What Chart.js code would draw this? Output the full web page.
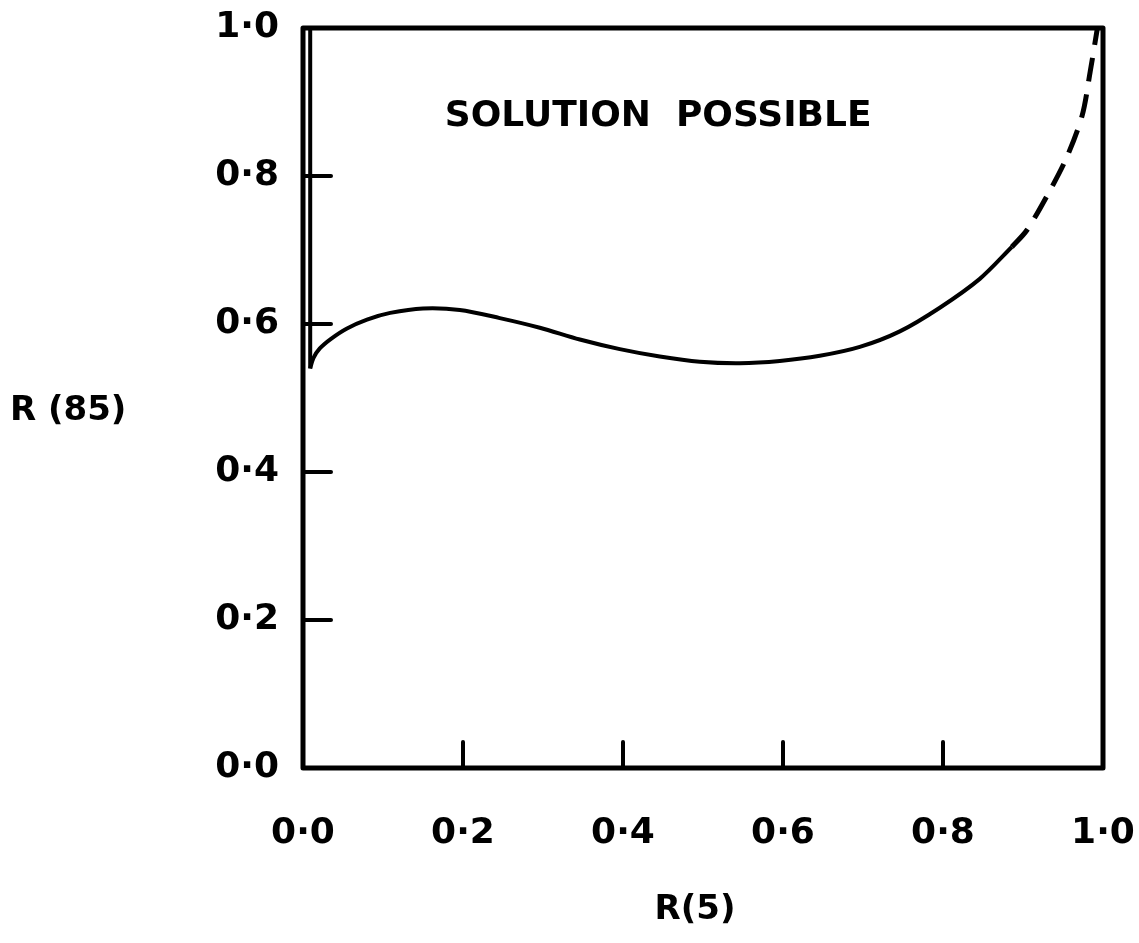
<!DOCTYPE html>
<html>
<head>
<meta charset="utf-8">
<script src="https://cdn.jsdelivr.net/npm/chart.js@4"></script>
<style>
  html, body { margin: 0; padding: 0; background: #fff; }
  #wrap { width: 1139px; height: 943px; position: relative; }
</style>
</head>
<body>
<div id="wrap"><canvas id="regionChart"></canvas></div>
<script>
// tick labels
const xTickLabels = ['0·0', '0·2', '0·4', '0·6', '0·8', '1·0'];
const yTickLabels = ['0·0', '0·2', '0·4', '0·6', '0·8', '1·0'];
const innerTicks = [0.2, 0.4, 0.6, 0.8];

// boundary curve, R(5) vs R(85), solid part
const curveX = [0.009, 0.013, 0.021, 0.035, 0.055, 0.08, 0.109, 0.15, 0.196, 0.246, 0.296, 0.346, 0.396, 0.446, 0.496, 0.546, 0.596, 0.646, 0.696, 0.746, 0.796, 0.846, 0.886];
const curveY = [0.54, 0.554, 0.567, 0.58, 0.594, 0.606, 0.615, 0.621, 0.619, 0.608, 0.595, 0.579, 0.566, 0.556, 0.549, 0.547, 0.550, 0.557, 0.569, 0.590, 0.622, 0.661, 0.704];

// dashed extension up to the corner
const dashX = [0.886, 0.905, 0.934, 0.955, 0.974, 0.984, 0.993];
const dashY = [0.704, 0.727, 0.781, 0.826, 0.882, 0.941, 1.0];

// vertical branch along the left edge
const edgeX = [0.009, 0.009];
const edgeY = [1.0, 0.54];

function toPoints(xs, ys) {
    return xs.map((x, i) => ({ x: x, y: ys[i] }));
}

const FONT = '"DejaVu Sans", sans-serif';

const framePlugin = {
    id: 'frame',
    afterDraw(chart) {
        const c = chart.ctx;
        const a = chart.chartArea;
        const xs = chart.scales.x, ys = chart.scales.y;
        c.save();
        c.strokeStyle = '#000';
        c.lineWidth = 5;
        c.lineJoin = 'round';
        c.strokeRect(a.left, a.top, a.right - a.left, a.bottom - a.top);
        // inward ticks
        c.lineWidth = 4;
        c.lineCap = 'round';
        innerTicks.forEach(v => {
            const py = ys.getPixelForValue(v);
            c.beginPath();
            c.moveTo(a.left, py);
            c.lineTo(a.left + 28, py);
            c.stroke();
            const px = xs.getPixelForValue(v);
            c.beginPath();
            c.moveTo(px, a.bottom);
            c.lineTo(px, a.bottom - 26);
            c.stroke();
        });
        // texts
        c.fillStyle = '#000';
        c.textBaseline = 'middle';
        c.font = 'bold 36px ' + FONT;
        c.textAlign = 'center';
        c.fillText('SOLUTION  POSSIBLE', xs.getPixelForValue(0.444), ys.getPixelForValue(0.88));
        c.font = 'bold 34px ' + FONT;
        c.textAlign = 'left';
        c.fillText('R (85)', 10, 411);
        c.textAlign = 'center';
        c.fillText('R(5)', 695, 910);
        c.restore();
    }
};

new Chart(document.getElementById('regionChart'), {
    type: 'line',
    data: {
        datasets: [
            {
                data: toPoints(curveX, curveY),
                borderColor: '#000',
                borderWidth: 4,
                tension: 0.3,
                pointRadius: 0
            },
            {
                data: toPoints(dashX, dashY),
                borderColor: '#000',
                borderWidth: 5,
                borderDash: [24, 13],
                tension: 0.3,
                pointRadius: 0
            },
            {
                data: toPoints(edgeX, edgeY),
                borderColor: '#000',
                borderWidth: 4,
                tension: 0,
                pointRadius: 0
            }
        ]
    },
    options: {
        responsive: true,
        maintainAspectRatio: false,
        animation: false,
        layout: { padding: { top: 28, right: 36, left: 0, bottom: 0 } },
        plugins: {
            legend: { display: false },
            tooltip: { enabled: false }
        },
        scales: {
            x: {
                type: 'linear',
                min: 0,
                max: 1,
                afterFit: s => {
                    s.height = 175;
                    s.paddingLeft = 0;
                    s.paddingRight = 0;
                },
                ticks: {
                    stepSize: 0.2,
                    padding: 36,
                    color: '#000',
                    font: { family: FONT, size: 36, weight: 'bold' },
                    maxRotation: 0,
                    callback: (v, i) => xTickLabels[i]
                },
                grid: { display: false },
                border: { display: false }
            },
            y: {
                type: 'linear',
                min: 0,
                max: 1,
                afterFit: s => {
                    s.width = 303;
                    s.paddingTop = 0;
                    s.paddingBottom = 0;
                },
                ticks: {
                    stepSize: 0.2,
                    padding: 16,
                    color: '#000',
                    font: { family: FONT, size: 36, weight: 'bold' },
                    callback: (v, i) => yTickLabels[i]
                },
                grid: { display: false },
                border: { display: false }
            }
        }
    },
    plugins: [framePlugin]
});
</script>
</body>
</html>
